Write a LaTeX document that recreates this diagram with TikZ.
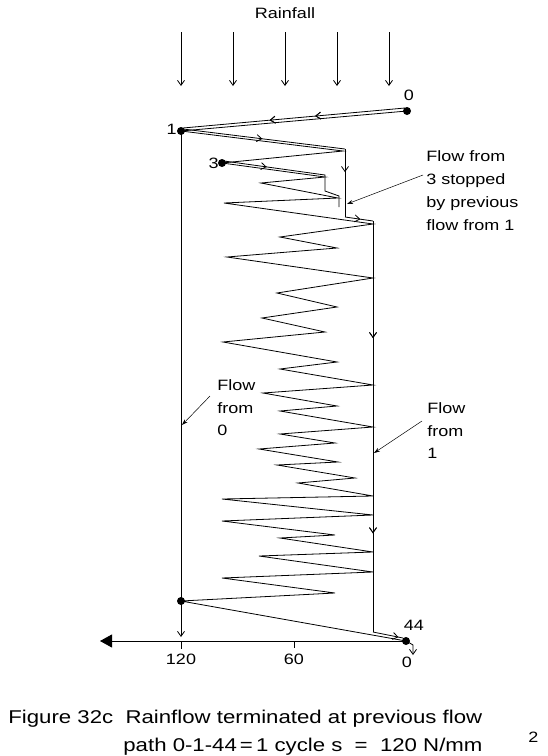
\documentclass[tikz,border=0pt]{standalone}
\usepackage{fontspec}
\setmainfont{Liberation Sans}[FakeStretch=1.2]
\usetikzlibrary{arrows.meta,decorations.markings}
\begin{document}
\begin{tikzpicture}[x=1pt,y=-1pt,line width=0.8pt,
  lbl/.style={font=\fontsize{15}{18}\selectfont,inner sep=0pt},
  captxt/.style={font=\fontsize{18.5}{21}\selectfont,inner sep=0pt,anchor=base west},
  dot/.style={circle,fill,inner sep=0pt,minimum size=8pt},
  barb/.style={-{Straight Barb[length=5pt,width=7pt]}},
  midarr/.style={postaction={decorate},decoration={markings,mark=at position #1 with {\arrow{Straight Barb[length=5pt,width=7pt]}}}},
  leader/.style={line width=0.5pt,-{Stealth[length=6pt,width=4pt]}}]
\useasboundingbox (0,0) rectangle (548,756);
% rainfall
\node[lbl] (rain) at (285,13) {Rainfall};
\foreach \x in {181,233,285,337,389} \draw[barb] (\x,32) -- (\x,86);
% stress history
\coordinate (p0) at (407,111);
\coordinate (p1) at (181,131);
\coordinate (p3) at (222,163);
\coordinate (pA) at (181,601);
\coordinate (p44) at (406,641);
\draw (p0) -- (p1) -- (343,151) -- (p3) -- (325,177) -- (261,183) -- (338,198) -- (224,203)
  -- (373,224) -- (280,237) -- (337,248) -- (227,257) -- (373,278) -- (277,293) -- (337,307)
  -- (262,318) -- (325,332) -- (223,342) -- (337,362) -- (280,369) -- (373,385) -- (263,393)
  -- (337,406) -- (280,411) -- (373,427) -- (280,434) -- (335,443) -- (259,449) -- (338,462)
  -- (277,465) -- (355,478) -- (298,483) -- (373,496) -- (222,499) -- (373,515) -- (222,521)
  -- (335,535) -- (280,538) -- (373,552) -- (259,556) -- (373,572) -- (222,578) -- (335,593)
  -- (pA) -- (p44);
% flow from 0
\draw[midarr=0.405,midarr=0.61] (405,108) -- (183,128);
\draw[barb] (p1) -- (181,637);
% flow from 1
\draw[midarr=0.49] (183,129) -- (345,149);
\draw[midarr=0.34] (345,149) -- (345,217);
\draw[midarr=0.55] (345,217) -- (373,221);
\draw[midarr=0.285,midarr=0.76] (373,221) -- (373,632);
\draw[midarr=0.85] (373,632) -- (403,638);
\draw[barb] (408,642) -- (413,645) -- (413,655);
% flow from 3
\draw[midarr=0.3] (224,161) -- (325,175) -- (325,191) -- (339,196) -- (339,207);
% dots
\node[dot] (d0) at (p0) {};
\node[dot] (d1) at (p1) {};
\node[dot] (d3) at (p3) {};
\node[dot] (dA) at (pA) {};
\node[dot] (d44) at (p44) {};
% point labels
\node[lbl] (l0) at (409,95) {0};
\node[lbl,anchor=east] (l1) at (177,129) {1};
\node[lbl,anchor=east] (l3) at (219,163) {3};
\node[lbl] (l44) at (414,625) {44};
% axis
\draw[-{Triangle[length=12pt,width=13pt]}] (p44) -- (100,641);
\draw (181,641) -- (181,649);
\draw (294,641) -- (294,648);
\node[lbl] (t120) at (181,659) {120};
\node[lbl] (t60) at (294,659) {60};
\node[lbl] (t0) at (407,662) {0};
% annotations
\node[lbl,anchor=west,align=left,font=\fontsize{15}{23}\selectfont] (n3) at (426,191) {Flow from\\3 stopped\\by previous\\flow from 1};
\coordinate (a3) at (347,204);
\draw[leader] (423,175) -- (a3);
\node[lbl,anchor=west,align=left,font=\fontsize{15}{22.5}\selectfont] (n0) at (217,408) {Flow\\from\\0};
\draw[leader] (210,396) -- (182,425);
\node[lbl,anchor=west,align=left,font=\fontsize{15}{22.5}\selectfont] (n1) at (427,431) {Flow\\from\\1};
\draw[leader] (422,421) -- (374,453);
% caption
\node[captxt] (c1) at (8,723) {Figure 32c\ \ Rainflow terminated at previous flow};
\node[captxt] (c2) at (123,751) {path 0-1-44\,=\,1 cycle s \ = \ 120 N/mm};
\node[captxt,font=\fontsize{15}{18}\selectfont] (c3) at (528,742) {2};
\end{tikzpicture}
\end{document}
